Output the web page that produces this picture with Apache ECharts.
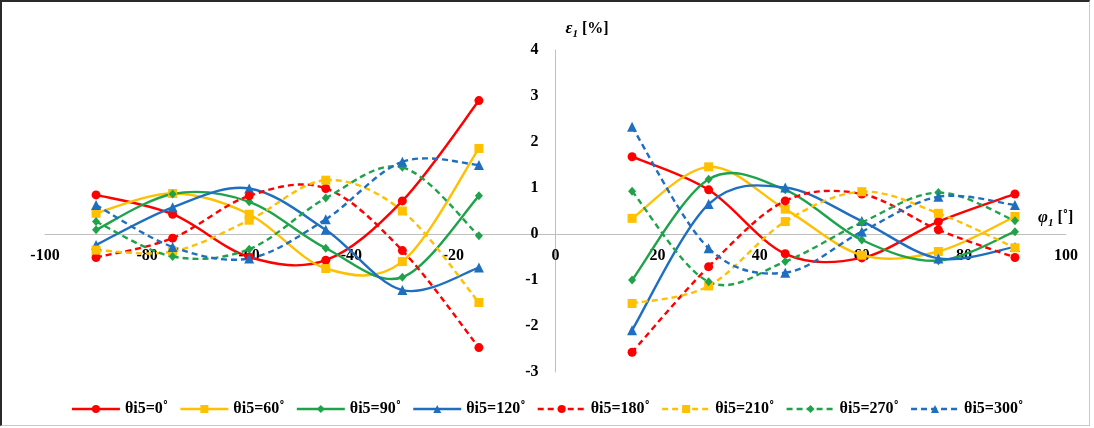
<!DOCTYPE html>
<html>
<head>
<meta charset="utf-8">
<script src="https://cdn.jsdelivr.net/npm/echarts@6/dist/echarts.min.js"></script>
<style>
  html, body { margin: 0; padding: 0; background: #fff; }
  #wrap { position: relative; width: 1094px; height: 428px; }
  #chart { position: absolute; left: 0; top: 0; width: 1094px; height: 428px; }
  #frame {
    position: absolute; left: 0; top: 0; width: 1087px; height: 423px;
    border-top: 2px solid #2a2a2a; border-left: 2px solid #2a2a2a;
    border-right: 1px solid #c8c8c8; border-bottom: 1px solid #c8c8c8;
    pointer-events: none;
  }
</style>
</head>
<body>
<div id="wrap">
  <div id="chart"></div>
  <div id="frame"></div>
</div>
<script>
// Rotation angle phi1 [deg] at which the strain was evaluated (two branches)
const phiLeft  = [-90, -75, -60, -45, -30, -15];
const phiRight = [15, 30, 45, 60, 75, 90];

// theta_i5 cases shown in the legend
const thetas = [0, 60, 90, 120, 180, 210, 270, 300];

// Strain eps1 [%] for each theta_i5, left branch then right branch
const eps0   = [0.85, 0.43, -0.50, -0.57, 0.72, 2.90,   1.68, 0.96, -0.43, -0.52, 0.27, 0.87];
const eps60  = [0.45, 0.88, 0.43, -0.75, -0.60, 1.86,   0.34, 1.46, 0.54, -0.46, -0.38, 0.38];
const eps90  = [0.09, 0.87, 0.70, -0.31, -0.94, 0.83,   -1.00, 1.19, 0.96, -0.13, -0.58, 0.05];
const eps120 = [-0.24, 0.58, 0.99, 0.09, -1.22, -0.73,  -2.09, 0.65, 1.01, 0.28, -0.53, -0.28];
const eps180 = [-0.51, -0.09, 0.83, 0.99, -0.36, -2.47, -2.57, -0.71, 0.72, 0.87, 0.09, -0.51];
const eps210 = [-0.35, -0.38, 0.30, 1.17, 0.50, -1.49,  -1.51, -1.13, 0.27, 0.92, 0.45, -0.30];
const eps270 = [0.27, -0.49, -0.33, 0.78, 1.45, -0.04,  0.93, -1.04, -0.60, 0.25, 0.90, 0.29];
const eps300 = [0.63, -0.28, -0.53, 0.32, 1.57, 1.50,   2.33, -0.31, -0.84, 0.05, 0.81, 0.63];

// Axis ticks
const xTicks = { min: -100, max: 100, step: 20 };
const yTicks = { min: -3, max: 4, step: 1 };

const values  = [eps0, eps60, eps90, eps120, eps180, eps210, eps270, eps300];
const colors  = ['#ff0000', '#ffc000', '#1fa34a', '#1f6fc0', '#ff0000', '#ffc000', '#1fa34a', '#1f6fc0'];
const symbols = ['circle', 'rect', 'diamond', 'triangle', 'circle', 'rect', 'diamond', 'triangle'];
const sizes   = [9, 9, [8, 9], 10, 9, 9, [8, 9], 10];
const dash    = [6, 4];
const curveWidth = 2.4;

const serif = '"Liberation Serif", "DejaVu Serif", serif';

// Plot box and the pixel offsets that put both axes through the origin
const grid = { left: 45, right: 28, top: 50, bottom: 56 };
const plotW = 1094 - grid.left - grid.right;
const plotH = 428 - grid.top - grid.bottom;
const xAxisShift = -plotH * (0 - yTicks.min) / (yTicks.max - yTicks.min);
const yAxisShift = -plotW * (0 - xTicks.min) / (xTicks.max - xTicks.min);

const phiAll = phiLeft.concat(phiRight);
const branchOf = i => (i < phiLeft.length ? 0 : 1);

function markerData(vals) {
  const pts = [];
  phiLeft.forEach((p, i) => pts.push([p, vals[i]]));
  pts.push([0, '-']); // gap between the two branches
  phiRight.forEach((p, i) => pts.push([p, vals[phiLeft.length + i]]));
  return pts;
}

// Smoothed connecting line: each data item draws the cubic Bezier to its
// successor in the same branch, with Catmull-Rom style control points.
function curveRenderer(k) {
  const vals = values[k];
  return function (params, api) {
    const i = params.dataIndex;
    const n = phiAll.length;
    if (i + 1 >= n || branchOf(i + 1) !== branchOf(i)) return null;
    const iPrev = (i - 1 >= 0 && branchOf(i - 1) === branchOf(i)) ? i - 1 : i;
    const iNext = (i + 2 < n && branchOf(i + 2) === branchOf(i)) ? i + 2 : i + 1;
    const p0 = api.coord([phiAll[iPrev], vals[iPrev]]);
    const p1 = api.coord([phiAll[i], vals[i]]);
    const p2 = api.coord([phiAll[i + 1], vals[i + 1]]);
    const p3 = api.coord([phiAll[iNext], vals[iNext]]);
    return {
      type: 'bezierCurve',
      shape: {
        x1: p1[0], y1: p1[1], x2: p2[0], y2: p2[1],
        cpx1: p1[0] + (p2[0] - p0[0]) / 6, cpy1: p1[1] + (p2[1] - p0[1]) / 6,
        cpx2: p2[0] - (p3[0] - p1[0]) / 6, cpy2: p2[1] - (p3[1] - p1[1]) / 6
      },
      style: {
        fill: null, stroke: colors[k], lineWidth: curveWidth,
        lineDash: k < 4 ? null : dash
      },
      silent: true
    };
  };
}

const series = [];
const legendNames = [];
thetas.forEach((t, k) => {
  const name = 'θi5=' + t + '˚';
  legendNames.push(name);
  series.push({
    name: 'curve ' + name,
    type: 'custom',
    renderItem: curveRenderer(k),
    data: phiAll.map((p, i) => [p, values[k][i]]),
    encode: { x: 0, y: 1 },
    silent: true
  });
  series.push({
    name: name,
    type: 'line',
    data: markerData(values[k]),
    connectNulls: false,
    symbol: symbols[k],
    symbolSize: sizes[k],
    showAllSymbol: true,
    lineStyle: { color: colors[k], width: 2, type: k < 4 ? 'solid' : dash, opacity: 0 },
    itemStyle: { color: colors[k] }
  });
});

const richName = {
  e: { fontFamily: serif, fontStyle: 'italic', fontWeight: 'bold', fontSize: 17, color: '#000' },
  s: { fontFamily: serif, fontStyle: 'italic', fontWeight: 'bold', fontSize: 11, color: '#000', verticalAlign: 'bottom', padding: [0, 0, -3, 0] },
  b: { fontFamily: serif, fontWeight: 'bold', fontSize: 16, color: '#000' }
};

const chart = echarts.init(document.getElementById('chart'));
chart.setOption({
  animation: false,
  backgroundColor: '#fff',
  grid: Object.assign({ containLabel: false }, grid),
  xAxis: {
    type: 'value',
    position: 'bottom',
    offset: xAxisShift,
    min: xTicks.min, max: xTicks.max, interval: xTicks.step,
    axisLine: { onZero: false, lineStyle: { color: '#bfbfbf', width: 1 } },
    axisTick: { show: false },
    splitLine: { show: false },
    axisLabel: { margin: 14, color: '#000', fontFamily: serif, fontWeight: 'bold', fontSize: 16 },
    name: '{e|φ}{s|1}{b| [˚]}',
    nameLocation: 'end',
    nameGap: -28,
    nameTextStyle: { align: 'left', verticalAlign: 'bottom', padding: [0, 0, 8, 0], rich: richName }
  },
  yAxis: {
    type: 'value',
    position: 'left',
    offset: yAxisShift,
    min: yTicks.min, max: yTicks.max, interval: yTicks.step,
    axisLine: { show: true, onZero: false, lineStyle: { color: '#bfbfbf', width: 1 } },
    axisTick: { show: false },
    splitLine: { show: false },
    axisLabel: { margin: 17, color: '#000', fontFamily: serif, fontWeight: 'bold', fontSize: 16 },
    name: '{e|ε}{s|1}{b| [%]}',
    nameLocation: 'end',
    nameGap: 13,
    nameTextStyle: { align: 'left', verticalAlign: 'bottom', padding: [0, 0, 0, 10], rich: richName }
  },
  legend: {
    left: 'center',
    top: 396,
    itemWidth: 48,
    itemHeight: 10,
    itemGap: 11,
    lineStyle: { opacity: 1, width: curveWidth },
    textStyle: { fontFamily: serif, fontWeight: 'bold', fontSize: 16, color: '#000' },
    data: legendNames
  },
  series: series
});
</script>
</body>
</html>
